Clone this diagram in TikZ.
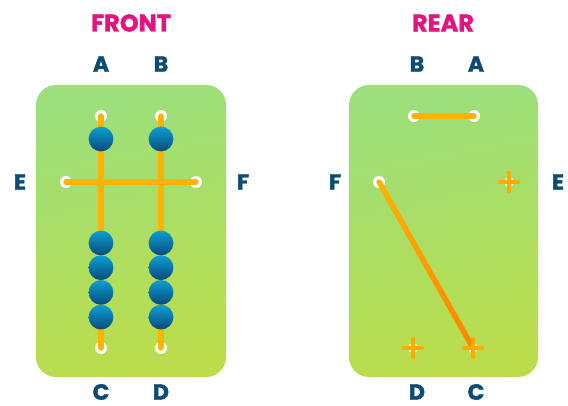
\documentclass[tikz,border=0pt]{standalone}
\usepackage{fontspec}
\setmainfont{Poppins}
\newfontfamily\heavyfont{Poppins}[FakeBold=1.6, BoldFeatures={FakeBold=1.6}]
\usetikzlibrary{calc}
\definecolor{panelTop}{HTML}{9CDF7C}
\definecolor{panelBot}{HTML}{BBDD4C}
\definecolor{cordCol}{HTML}{FFB200}
\definecolor{cordDark}{HTML}{FF8300}
\definecolor{beadTop}{HTML}{0B9FD4}
\definecolor{beadBot}{HTML}{0A4A7B}
\definecolor{labelCol}{HTML}{0C4B73}
\definecolor{titleCol}{HTML}{E3147F}
\tikzset{
  panel/.style={rounded corners=20pt, top color=panelTop, bottom color=panelBot, shading angle=12},
  hole/.style={circle, fill=white, minimum size=12pt, inner sep=0pt},
  crosshole/.style={circle, fill=white, fill opacity=0.7, minimum size=10pt, inner sep=0pt},
  bead/.style={circle, minimum size=24.8pt, inner sep=0pt, top color=beadTop, bottom color=beadBot},
  cord/.style={line width=5.2pt, line cap=round, draw=cordCol},
  lbl/.style={text=labelCol, font=\heavyfont\bfseries\fontsize{22}{22}\selectfont, inner sep=0pt},
  ttl/.style={text=titleCol, font=\heavyfont\bfseries\fontsize{24}{24}\selectfont, inner sep=0pt},
  plusmark/.pic={
    \draw[line width=4.5pt, line cap=round, draw=cordCol!85!cordDark] (-9,0) -- (9,0) (0,-9) -- (0,9);
  }
}
\begin{document}
\begin{tikzpicture}[x=1pt, y=-1pt]
\useasboundingbox (0,0) rectangle (568,406);

% ---------- front panel ----------
\shade[panel] (36,85) rectangle (226,377);
\node[ttl] (tFront) at (131,23) {FRONT};
\node[lbl] (lfA) at (101,64) {A};
\node[lbl] (lfB) at (161,64) {B};
\node[lbl] (lfC) at (101,392) {C};
\node[lbl] (lfD) at (161,392) {D};
\node[lbl] (lfE) at (20,182) {E};
\node[lbl] (lfF) at (243,182) {F};

\node[hole] (fA) at (101,116) {};
\node[hole] (fB) at (161,116) {};
\node[hole] (fC) at (101,348) {};
\node[hole] (fD) at (161,348) {};
\node[hole] (fE) at (66,182) {};
\node[hole] (fF) at (196,182) {};

\draw[cord] (fA.center) -- (fC.center);
\draw[cord] (fB.center) -- (fD.center);
\draw[cord] (fE.center) -- (fF.center);

\foreach \x/\n in {101/a,161/b}{
  \node[bead] (top\n) at (\x,139) {};
  \foreach \y [count=\k] in {243,267.7,292.4,317.1}
    \node[bead] (bead\n\k) at (\x,\y) {};
}

% ---------- rear panel ----------
\shade[panel] (349,85) rectangle (538,377);
\node[ttl] (tRear) at (443,23) {REAR};
\node[lbl] (lrB) at (417,64) {B};
\node[lbl] (lrA) at (476,64) {A};
\node[lbl] (lrD) at (417,392) {D};
\node[lbl] (lrC) at (476,392) {C};
\node[lbl] (lrF) at (335,182) {F};
\node[lbl] (lrE) at (558,182) {E};

\node[hole] (rB) at (414,116) {};
\node[hole] (rA) at (474,116) {};
\node[hole] (rF) at (379,182) {};
\node[crosshole] (rE) at (509,182) {};
\node[crosshole] (rD) at (413,348) {};
\node[crosshole] (rC) at (473,348) {};

\draw[cord] (rB.center) -- (rA.center);

% diagonal cord, shading from amber to orange
\draw[cord, draw=cordCol!55!cordDark] (rF.center) -- (rC.center);
\foreach \i in {0,...,19}{
  \pgfmathsetmacro\p{\i*5}
  \draw[line width=5.2pt, draw=cordDark!\p!cordCol]
    ($(rF.center)!\i/20!(rC.center)$) -- ($(rF.center)!{(\i+1)/20}!(rC.center)$);
}

\pic at (rE.center) {plusmark};
\pic at (rD.center) {plusmark};
\pic at (rC.center) {plusmark};
\end{tikzpicture}
\end{document}
